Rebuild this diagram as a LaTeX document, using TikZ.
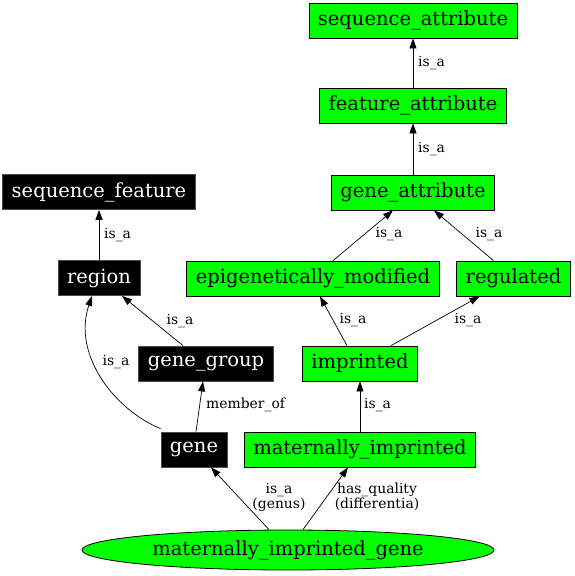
\documentclass[tikz,border=0pt]{standalone}
\usepackage{fontspec}
\setmainfont{DejaVu Serif}
\usetikzlibrary{shapes.geometric,arrows.meta}
\definecolor{gvgreen}{HTML}{00FF00}
\tikzset{
  base/.style={rectangle,minimum height=35pt,inner xsep=9pt,inner ysep=0pt,font=\fontsize{19.5}{22}\selectfont,line width=0.8pt},
  blk/.style={base,fill=black,draw=black!70,text=white},
  grn/.style={base,fill=gvgreen,draw=black},
  ell/.style={ellipse,fill=gvgreen,draw=black,line width=0.8pt,minimum width=412pt,minimum height=40pt,inner sep=0pt,font=\fontsize{19.5}{22}\selectfont},
  edge/.style={line width=0.7pt,-{Triangle[length=10pt,width=7pt]}},
  lbl/.style={font=\fontsize{13.9}{15}\selectfont,inner sep=0pt,align=center}
}
\begin{document}
\begin{tikzpicture}[x=1pt,y=-1pt]
\useasboundingbox (0,0) rectangle (574,576);
% nodes
\node[grn] (sa) at (413,20.5) {sequence\_attribute};
\node[grn] (fa) at (413,105.5) {feature\_attribute};
\node[grn] (ga) at (413,192.5) {gene\_attribute};
\node[grn] (em) at (313,278.5) {epigenetically\_modified};
\node[grn] (rg) at (513.5,278.5) {regulated};
\node[grn] (im) at (360,363.5) {imprinted};
\node[grn] (mi) at (360,449.5) {maternally\_imprinted};
\node[blk] (sf) at (99,192) {sequence\_feature};
\node[blk] (re) at (99,278) {region};
\node[blk] (gg) at (206,363.5) {gene\_group};
\node[blk] (ge) at (194,449.5) {gene};
\node[ell] (mig) at (288,550) {maternally\_imprinted\_gene};
% edges
\draw[edge] (fa.north) -- (sa.south);
\draw[edge] (ga.north) -- (fa.south);
\draw[edge] ([xshift=20pt]em.north) -- ([xshift=-20pt]ga.south);
\draw[edge] ([xshift=-20pt]rg.north) -- ([xshift=21pt]ga.south);
\draw[edge] ([xshift=-13pt]im.north) -- ([xshift=7pt]em.south);
\draw[edge] ([xshift=31pt]im.north) -- ([xshift=-34pt]rg.south);
\draw[edge] (mi.north) -- (im.south);
\draw[edge] (re.north) -- (sf.south);
\draw[edge] ([xshift=-23pt]gg.north) -- ([xshift=23pt]re.south);
\draw[edge] ([xshift=2pt]ge.north) -- ([xshift=-3pt]gg.south);
\draw[edge] ([yshift=3pt]ge.north west) .. controls (115,410) and (72,355) .. ([xshift=-7pt]re.south);
\draw[edge] ([xshift=-19pt]mig.north) -- ([xshift=17pt]ge.south);
\draw[edge] ([xshift=15pt]mig.north) -- ([xshift=-12pt]mi.south);
% labels
\node[lbl,anchor=west] (l1) at (418,63) {is\_a};
\node[lbl,anchor=west] (l2) at (418,149) {is\_a};
\node[lbl] (l3) at (389,234) {is\_a};
\node[lbl] (l4) at (489,234) {is\_a};
\node[lbl] (l5) at (353,320) {is\_a};
\node[lbl] (l6) at (468,320) {is\_a};
\node[lbl,anchor=west] (l7) at (364,405) {is\_a};
\node[lbl,anchor=west] (l8) at (104,235) {is\_a};
\node[lbl] (l9) at (180,321) {is\_a};
\node[lbl] (l10) at (116,362) {is\_a};
\node[lbl,anchor=west] (l11) at (206,405) {member\_of};
\node[lbl] (l12) at (279,497) {is\_a\\(genus)};
\node[lbl] (l13) at (377,497) {has\_quality\\(differentia)};
\end{tikzpicture}
\end{document}
